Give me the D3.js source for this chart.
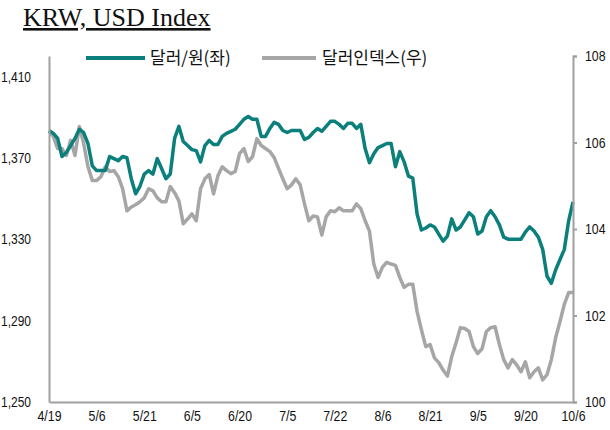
<!DOCTYPE html>
<html><head><meta charset="utf-8">
<script src="https://cdn.jsdelivr.net/npm/d3@7/dist/d3.min.js"></script>
<style>body{margin:0;background:#fff}svg{display:block}</style>
</head><body>
<script>
const dates = ("4/19 4/22 4/23 4/24 4/25 4/26 4/29 4/30 5/1 5/2 5/3 5/6 5/7 5/8 5/9 5/10 5/13 5/14 5/15 5/16 5/17 5/20 5/21 5/22 5/23 5/24 5/27 5/28 5/29 5/30 5/31 " +
  "6/3 6/4 6/5 6/6 6/7 6/10 6/11 6/12 6/13 6/14 6/17 6/18 6/19 6/20 6/21 6/24 6/25 6/26 6/27 6/28 " +
  "7/1 7/2 7/3 7/4 7/5 7/8 7/9 7/10 7/11 7/12 7/15 7/16 7/17 7/18 7/19 7/22 7/23 7/24 7/25 7/26 7/29 7/30 7/31 " +
  "8/1 8/2 8/5 8/6 8/7 8/8 8/9 8/12 8/13 8/14 8/15 8/16 8/19 8/20 8/21 8/22 8/23 8/26 8/27 8/28 8/29 8/30 " +
  "9/2 9/3 9/4 9/5 9/6 9/9 9/10 9/11 9/12 9/13 9/16 9/17 9/18 9/19 9/20 9/23 9/24 9/25 9/26 9/27 9/30 " +
  "10/1 10/2 10/3 10/4 10/6").split(" ");

const tickLabels = ["4/19","5/6","5/21","6/5","6/20","7/5","7/22","8/6","8/21","9/5","9/20","10/6"];

const krw = [1383.4,1382,1379.5,1370.6,1372.5,1376,1379.5,1384,1382.4,1377,
  1366,1363.7,1363.7,1363.7,1370.6,1369.6,1368.6,1370.6,1370,1359.7,
  1352.3,1356,1362,1363.7,1362,1369.6,1364.7,1359.7,1362,1379.5,
  1385.4,1378,1376,1374,1373.5,1368,1376,1378.5,1376.5,1376.5,
  1380.5,1382,1383,1384,1386.4,1388.9,1390.3,1388.9,1388.9,1380.5,
  1380.5,1384.4,1387.4,1386.4,1383.4,1382.4,1383.4,1383.4,1383.4,1379,
  1380,1382.4,1384.4,1383,1385.4,1387.9,1387.9,1386.4,1384.4,1386.9,
  1386.9,1384.4,1386.4,1374.5,1367.6,1372,1375,1376,1377,1377,
  1365.6,1373,1368,1361,1360,1342.4,1334.5,1335.5,1337,1336,
  1332.5,1329,1331.5,1340,1334.5,1336,1339.5,1343,1341,1332.5,
  1334,1341,1344,1341,1337,1331,1330,1330,1330,1330,
  1333.5,1336,1334,1331,1325,1311.8,1308.3,1315,1320,1325,
  1339,1348.3];

const dxy = [106.26,106.14,105.86,105.86,105.70,106.05,105.70,106.37,105.98,105.44,
  105.12,105.12,105.21,105.44,105.33,105.35,105.21,104.93,104.42,104.51,
  104.56,104.63,104.72,104.93,104.88,104.72,104.63,104.63,104.98,104.84,
  104.65,104.12,104.23,104.35,104.19,104.93,105.16,105.26,104.81,105.23,
  105.44,105.35,105.28,105.33,105.74,105.86,105.56,105.67,106.09,105.93,
  105.86,105.79,105.65,105.40,105.16,104.93,105.02,105.16,105.02,104.58,
  104.19,104.30,104.28,103.86,104.28,104.42,104.40,104.49,104.42,104.42,
  104.42,104.58,104.47,104.19,103.95,103.19,102.88,103.12,103.23,103.19,
  103.16,102.88,102.65,102.72,102.72,102.09,101.67,101.28,101.33,101.02,
  100.91,100.74,100.60,101.05,101.37,101.72,101.70,101.63,101.28,101.12,
  101.23,101.63,101.72,101.74,101.33,100.98,100.79,100.98,100.86,100.70,
  100.93,100.56,100.70,100.79,100.51,100.63,100.98,101.49,101.86,102.26,
  102.53,102.53];

const leftTicks = [1250,1290,1330,1370,1410];
const rightTicks = [100,102,104,106,108];
const seriesNames = ["달러/원(좌)","달러인덱스(우)"];
const colors = ["#0b7f7b","#a6a6a6"];

const W = 610, H = 430;
const L = 49, R = 573, T = 56, B = 402;
const svg = d3.select("body").append("svg").attr("width",W).attr("height",H);

const x = d3.scalePoint().domain(dates).range([L,R]);
const yL = d3.scaleLinear().domain([1250,1420]).range([B,T]);
const yR = d3.scaleLinear().domain([100,108]).range([B,T]);

const axisFont = "'Liberation Sans','Arial',sans-serif";
const axisColor = "#a0a0a0";

function narrow(sel, f) {
  sel.each(function(){
    const len = this.getComputedTextLength();
    d3.select(this).attr("textLength", len*f).attr("lengthAdjust","spacingAndGlyphs");
  });
}

// title
svg.append("text").attr("x",23).attr("y",26)
  .attr("font-family","'Liberation Serif','Times New Roman',serif")
  .attr("font-size",26).attr("fill","#111").attr("text-decoration","underline")
  .text("KRW, USD Index");

// lines
const lineL = d3.line().x((d,i)=>x(dates[i])).y(d=>yL(d));
const lineR = d3.line().x((d,i)=>x(dates[i])).y(d=>yR(d));
svg.append("path").datum(dxy).attr("d",lineR).attr("fill","none")
  .attr("stroke",colors[1]).attr("stroke-width",3.5).attr("stroke-linejoin","round");
svg.append("path").datum(krw).attr("d",lineL).attr("fill","none")
  .attr("stroke",colors[0]).attr("stroke-width",3.5).attr("stroke-linejoin","round");

// left axis
const gL = svg.append("g").attr("transform",`translate(${L},0)`)
  .call(d3.axisLeft(yL).tickValues(leftTicks).tickSize(0).tickPadding(18).tickFormat(d3.format(",")));
gL.select(".domain").attr("stroke",axisColor).attr("stroke-width",2);
gL.selectAll("text").attr("font-family",axisFont).attr("font-size",15).attr("fill","#111");
narrow(gL.selectAll("text"), 0.8);

// right axis
const gR = svg.append("g").attr("transform",`translate(${R},0)`)
  .call(d3.axisRight(yR).tickValues(rightTicks).tickSize(4).tickPadding(8));
gR.select(".domain").attr("stroke",axisColor).attr("stroke-width",2);
gR.selectAll("line").attr("stroke",axisColor).attr("stroke-width",2);
gR.selectAll("text").attr("font-family",axisFont).attr("font-size",15).attr("fill","#111");
narrow(gR.selectAll("text"), 0.82);

// bottom axis
const gB = svg.append("g").attr("transform",`translate(0,${B})`)
  .call(d3.axisBottom(x).tickValues(tickLabels).tickSize(0).tickPadding(8));
gB.select(".domain").attr("stroke",axisColor).attr("stroke-width",2);
gB.selectAll("text").attr("font-family",axisFont).attr("font-size",15).attr("fill","#111");
narrow(gB.selectAll("text"), 0.82);

// legend
const legend = [{x1:86,x2:145,tx:150},{x1:262,x2:316,tx:322}];
legend.forEach((l,i)=>{
  svg.append("line").attr("x1",l.x1).attr("x2",l.x2).attr("y1",58).attr("y2",58)
    .attr("stroke",colors[i]).attr("stroke-width",4);
  svg.append("text").attr("x",l.tx).attr("y",58).attr("dy","0.35em")
    .attr("font-family","'Noto Sans CJK KR',sans-serif").attr("font-size",17).attr("fill","#111")
    .text(seriesNames[i]);
});
</script>
</body></html>
